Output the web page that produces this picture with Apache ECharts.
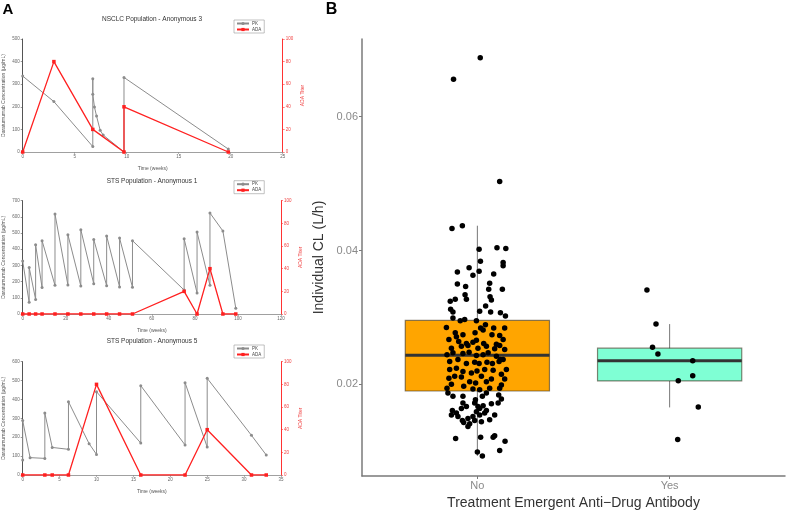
<!DOCTYPE html>
<html><head><meta charset="utf-8">
<script src="https://cdn.jsdelivr.net/npm/echarts@6/dist/echarts.min.js"></script>
<style>html,body{margin:0;padding:0;background:#fff}#c{width:787px;height:510px}</style>
</head><body><div id="c"></div>
<script>
// ---------- Panel A data ----------
const nsclcPkTime = [0, 3, 6.74, 6.74, 6.74, 6.9, 7.1, 7.45, 7.74, 9.74, 9.74, 19.77];
const nsclcPk     = [336, 223, 24, 324, 255, 199, 159, 96, 75, 0, 330, 13];
const nsclcAdaTime = [0, 3, 6.74, 9.74, 9.74, 19.77];
const nsclcAda     = [0, 80, 20, 0, 40, 0];

const sts1PkTime = [0,3,3,6,6,9,9,15,15,21,21,27,27,33,33,39,39,45,45,51,51,75,75,81,81,87,87,93,99];
const sts1Pk     = [327,72,288,90,428,163,453,177,618,179,490,173,521,187,461,175,482,167,469,165,453,148,465,130,506,177,624,513,35];
const sts1AdaTime = [0,3,6,9,15,21,27,33,39,45,51,75,81,87,93,99];
const sts1Ada     = [0,0,0,0,0,0,0,0,0,0,0,20,0,40,0,0];

const sts5PkTime = [0,0,1,3,3,4,6.2,6.2,9,10,10,16,16,22,22,25,25,31,33];
const sts5Pk     = [80,288,92,88,328,146,136,388,166,109,441,169,473,159,489,148,512,210,106];
const sts5AdaTime = [0,3,4,6.2,10,16,22,25,31,33];
const sts5Ada     = [0,0,0,0,80,0,0,40,0,0];

const panelTitles = ['NSCLC Population - Anonymous 3', 'STS Population - Anonymous 1', 'STS Population - Anonymous 5'];
const timeMax = [25, 120, 35];
const timeStep = [5, 20, 5];
const concMax = [500, 700, 600];

// ---------- Panel B data ----------
const groups = ['No', 'Yes'];
// [lower whisker, Q1, median, Q3, upper whisker]
const boxNo  = [0.0093, 0.0190, 0.02435, 0.02955, 0.0437];
const boxYes = [0.01655, 0.0205, 0.02354, 0.0254, 0.0290];
const clTicks = [0.02, 0.04, 0.06];

const noJitter = [0.015,-0.124,0.116,
 -0.132,-0.078,0.009,0.102,0.148,0.016,0.134,0.134,-0.104,-0.043,-0.023,0.009,0.085,-0.104,-0.061,0.064,0.130,0.059,
 -0.064,-0.057,0.066,0.073,-0.141,-0.115,0.043,0.120,0.146,-0.139,-0.127,0.012,0.069,-0.127,-0.089,-0.066,-0.005,0.042,
 0.017,0.085,0.142,-0.161,-0.115,-0.109,-0.075,-0.012,0.030,0.076,0.116,-0.148,-0.097,-0.057,-0.023,-0.005,0.033,0.099,
 0.134,-0.135,-0.083,-0.049,0.003,0.047,0.090,0.116,-0.158,-0.127,-0.075,-0.043,-0.005,0.030,0.056,0.099,0.120,0.142,
 -0.144,-0.101,-0.057,-0.014,0.009,0.050,0.078,0.113,0.134,-0.144,-0.109,-0.075,-0.031,-0.002,0.038,0.082,0.125,0.151,
 -0.148,-0.118,-0.083,-0.040,-0.009,0.021,0.047,0.073,0.125,0.142,-0.158,-0.135,-0.071,-0.023,0.012,0.064,0.116,
 -0.153,-0.127,-0.075,-0.010,0.026,0.047,0.111,0.125,-0.075,-0.057,-0.014,0.003,0.030,0.073,0.108,
 -0.130,-0.109,-0.083,-0.005,0.012,0.047,-0.135,-0.101,-0.078,-0.049,-0.023,0.012,0.038,0.090,
 -0.071,-0.040,-0.014,0.021,0.064,-0.049,-0.113,0.017,0.082,0.090,0.144,0.116,0.000,0.026];
const noCL = [0.0688,0.0656,0.0503,
 0.0433,0.0437,0.0402,0.0404,0.0403,0.0384,0.0382,0.0377,0.0368,0.0374,0.0363,0.0369,0.0365,0.0350,0.0346,0.0351,0.0342,0.0342,
 0.0334,0.0327,0.0331,0.0326,0.0324,0.0327,0.0317,0.0307,0.0302,0.0312,0.0308,0.0309,0.0308,0.0299,0.0295,0.0297,0.0295,0.0289,
 0.0284,0.0284,0.0284,0.0285,0.0277,0.0271,0.0274,0.0277,0.0281,0.0274,0.0273,0.0267,0.0264,0.0261,0.0263,0.0266,0.0261,0.0260,
 0.0267,0.0254,0.0257,0.0258,0.0254,0.0257,0.0253,0.0258,0.0244,0.0247,0.0246,0.0248,0.0243,0.0244,0.0247,0.0242,0.0237,0.0252,
 0.0234,0.0237,0.0231,0.0233,0.0231,0.0233,0.0231,0.0234,0.0237,0.0222,0.0224,0.0219,0.0217,0.0220,0.0222,0.0221,0.0215,0.0222,
 0.0209,0.0212,0.0211,0.0204,0.0202,0.0212,0.0204,0.0208,0.0199,0.0208,0.0194,0.0200,0.0197,0.0193,0.0192,0.0194,0.0194,
 0.0187,0.0182,0.0182,0.0177,0.0182,0.0187,0.0184,0.0178,0.0172,0.0167,0.0172,0.0167,0.0168,0.0171,0.0172,
 0.0161,0.0157,0.0164,0.0159,0.0164,0.0161,0.0154,0.0152,0.0146,0.0149,0.0152,0.0154,0.0157,0.0154,
 0.0143,0.0141,0.0146,0.0144,0.0147,0.0137,0.0119,0.0121,0.0121,0.0123,0.0115,0.0101,0.0099,0.0093];
const yesJitter = [-0.118,-0.071,-0.089,-0.061,0.120,0.120,0.045,0.149,0.042];
const yesCL     = [0.0341,0.0290,0.02555,0.02454,0.02354,0.02129,0.02054,0.0166,0.01175];

// ---------- build ----------
const FONT = 'Liberation Sans';
const grey = '#8a8a8a';
const pairs = (xs, ys) => xs.map((x, i) => [x, ys[i]]);

const gridsA = [
  {left: 22.7, top: 39, width: 260, height: 113},
  {left: 22.7, top: 200.7, width: 258.3, height: 113.3},
  {left: 22.7, top: 361.7, width: 258.3, height: 113.3}
];
const legendTops = [20, 180.7, 345];
const titleYs = [19, 181, 341.7];

const grid = gridsA.map(g => Object.assign({outerBoundsMode: 'none', containLabel: false}, g));
grid.push({left: 362, top: 39, width: 423, height: 437, outerBoundsMode: 'none', containLabel: false});

const xAxis = [], yAxis = [], series = [], legend = [], graphic = [];
const pkSets = [[nsclcPkTime, nsclcPk], [sts1PkTime, sts1Pk], [sts5PkTime, sts5Pk]];
const adaSets = [[nsclcAdaTime, nsclcAda], [sts1AdaTime, sts1Ada], [sts5AdaTime, sts5Ada]];

for (let i = 0; i < 3; i++) {
  xAxis.push({
    gridIndex: i, type: 'value', min: 0, max: timeMax[i], interval: timeStep[i],
    name: 'Time (weeks)', nameLocation: 'middle', nameGap: 14,
    nameTextStyle: {fontSize: 5, color: '#555', fontFamily: FONT},
    axisLine: {show: true, onZero: false, lineStyle: {color: '#888', width: 0.8}},
    axisTick: {show: true, length: 2, lineStyle: {color: '#888', width: 0.6}},
    axisLabel: {fontSize: 4.5, color: '#666', margin: 2.5, fontFamily: FONT},
    splitLine: {show: false}
  });
  yAxis.push({
    gridIndex: i, type: 'value', min: 0, max: concMax[i], interval: 100, position: 'left',
    name: 'Daratumumab Concentration (µg/mL)', nameLocation: 'middle', nameRotate: 90, nameGap: 17,
    nameTextStyle: {fontSize: 5, color: '#555', fontFamily: FONT},
    axisLine: {show: true, lineStyle: {color: '#555', width: 1}},
    axisTick: {show: true, length: 2, lineStyle: {color: '#555', width: 0.6}},
    axisLabel: {fontSize: 4.5, color: '#666', margin: 3, fontFamily: FONT},
    splitLine: {show: false}
  });
  yAxis.push({
    gridIndex: i, type: 'value', min: 0, max: 100, interval: 20, position: 'right',
    name: 'ADA Titer', nameLocation: 'middle', nameRotate: 90, nameGap: 17,
    nameTextStyle: {fontSize: 5, color: '#f04040', fontFamily: FONT},
    axisLine: {show: true, lineStyle: {color: '#ff3333', width: 1}},
    axisTick: {show: true, length: 2, lineStyle: {color: '#ff3333', width: 0.6}},
    axisLabel: {fontSize: 4.5, color: '#f04040', margin: 3, fontFamily: FONT},
    splitLine: {show: false}
  });
  series.push({
    name: 'PK', type: 'line', xAxisIndex: i, yAxisIndex: 2 * i,
    data: pairs(pkSets[i][0], pkSets[i][1]),
    symbol: 'circle', symbolSize: 3, showSymbol: true,
    lineStyle: {color: '#8c8c8c', width: 1}, itemStyle: {color: '#8c8c8c'},
    animation: false, z: 2
  });
  series.push({
    name: 'ADA', type: 'line', xAxisIndex: i, yAxisIndex: 2 * i + 1,
    data: pairs(adaSets[i][0], adaSets[i][1]),
    symbol: 'rect', symbolSize: 3.5, showSymbol: true,
    lineStyle: {color: '#ff2020', width: 1.3}, itemStyle: {color: '#ff2020'},
    animation: false, z: 3
  });
  legend.push({
    data: ['PK', 'ADA'], orient: 'vertical', left: 234, top: legendTops[i],
    padding: [1, 3, 1, 2], itemGap: 1, itemWidth: 12, itemHeight: 4,
    borderColor: '#999', borderWidth: 0.6, backgroundColor: '#fff',
    textStyle: {fontSize: 4.5, color: '#444', fontFamily: FONT, padding: [0, 0, 0, -2]},
    selectedMode: false
  });
  graphic.push({type: 'text', x: 152, y: titleYs[i], style: {text: panelTitles[i], fontSize: 6.5, fill: '#333', fontFamily: FONT, textAlign: 'center', textVerticalAlign: 'middle'}});
}

// Panel B axes
xAxis.push({
  gridIndex: 3, type: 'value', min: 0.4, max: 2.6,
  name: 'Treatment Emergent Anti\u2212Drug Antibody', nameLocation: 'middle', nameGap: 18,
  nameTextStyle: {fontSize: 14, color: '#333', fontFamily: FONT},
  axisLine: {show: true, onZero: false, lineStyle: {color: '#7a7a7a', width: 1.5}},
  axisTick: {show: true, length: 3, customValues: [1, 2], lineStyle: {color: '#7a7a7a'}},
  axisLabel: {customValues: [1, 2], formatter: v => groups[Math.round(v) - 1], fontSize: 11, color: grey, margin: 4, fontFamily: FONT},
  splitLine: {show: false}
});
yAxis.push({
  gridIndex: 3, type: 'value', min: 0.0063, max: 0.0716,
  name: 'Individual CL (L/h)', nameLocation: 'middle', nameRotate: 90, nameGap: 30,
  nameTextStyle: {fontSize: 14, color: '#333', fontFamily: FONT},
  axisLine: {show: true, onZero: false, lineStyle: {color: '#7a7a7a', width: 1.5}},
  axisTick: {show: true, length: 3, customValues: clTicks, lineStyle: {color: '#7a7a7a'}},
  axisLabel: {customValues: clTicks, formatter: v => v.toFixed(2), fontSize: 11, color: grey, margin: 4, fontFamily: FONT},
  splitLine: {show: false}
});

const boxFills = ['#FFA500', '#7FFFD4'];
series.push({
  type: 'custom', xAxisIndex: 3, yAxisIndex: 6, animation: false, z: 2,
  data: [[1].concat(boxNo), [2].concat(boxYes)],
  encode: {x: 0, y: [1, 2, 3, 4, 5]},
  renderItem: function (params, api) {
    const x = api.value(0);
    const lo = api.coord([x, api.value(1)]);
    const q1 = api.coord([x, api.value(2)]);
    const md = api.coord([x, api.value(3)]);
    const q3 = api.coord([x, api.value(4)]);
    const hi = api.coord([x, api.value(5)]);
    const hw = api.size([0.375, 0])[0];
    return {type: 'group', children: [
      {type: 'line', shape: {x1: lo[0], y1: lo[1], x2: hi[0], y2: hi[1]}, style: {stroke: '#777', lineWidth: 1}},
      {type: 'rect', shape: {x: md[0] - hw, y: q3[1], width: 2 * hw, height: q1[1] - q3[1]},
        style: {fill: boxFills[params.dataIndex], stroke: 'rgba(60,50,30,0.6)', lineWidth: 1.2}},
      {type: 'line', shape: {x1: md[0] - hw, y1: md[1], x2: md[0] + hw, y2: md[1]}, style: {stroke: '#333', lineWidth: 3}}
    ]};
  }
});
series.push({
  type: 'scatter', xAxisIndex: 3, yAxisIndex: 6, animation: false, z: 4,
  data: noJitter.map((d, i) => [1 + d, noCL[i]]),
  symbolSize: 5.5, itemStyle: {color: '#000', opacity: 1}
});
series.push({
  type: 'scatter', xAxisIndex: 3, yAxisIndex: 6, animation: false, z: 4,
  data: yesJitter.map((d, i) => [2 + d, yesCL[i]]),
  symbolSize: 5.5, itemStyle: {color: '#000', opacity: 1}
});

graphic.push({type: 'text', x: 8, y: 10, style: {text: 'A', fontSize: 15, fontWeight: 'bold', fill: '#000', fontFamily: FONT, textAlign: 'center', textVerticalAlign: 'middle'}});
graphic.push({type: 'text', x: 331.5, y: 9.5, style: {text: 'B', fontSize: 16, fontWeight: 'bold', fill: '#000', fontFamily: FONT, textAlign: 'center', textVerticalAlign: 'middle'}});

const chart = echarts.init(document.getElementById('c'), null, {renderer: 'canvas'});
chart.setOption({
  animation: false,
  backgroundColor: '#fff',
  textStyle: {fontFamily: FONT},
  grid, xAxis, yAxis, series, legend, graphic
});
</script>
</body></html>
